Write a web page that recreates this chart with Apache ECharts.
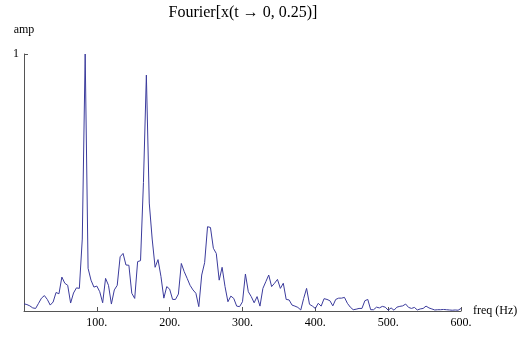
<!DOCTYPE html>
<html>
<head>
<meta charset="utf-8">
<script src="https://cdn.jsdelivr.net/npm/echarts@6/dist/echarts.min.js"></script>
<style>
html,body{margin:0;padding:0;background:#fff;}
#chart{width:528px;height:338px;}
</style>
</head>
<body>
<div id="chart"></div>
<script>
// spectrum, 4 Hz bins from 0 to 600 Hz
var freqStep = 4;
var amps = [
	0.028, 0.025, 0.02, 0.012, 0.01, 0.03, 0.05, 0.06, 0.045, 0.023,
	0.035, 0.072, 0.067, 0.132, 0.108, 0.1, 0.031, 0.07, 0.09, 0.088,
	0.28, 1.0, 0.166, 0.12, 0.093, 0.097, 0.075, 0.032, 0.127, 0.1,
	0.027, 0.082, 0.1, 0.211, 0.224, 0.179, 0.178, 0.069, 0.049, 0.192,
	0.196, 0.5, 0.918, 0.42, 0.28, 0.17, 0.2, 0.135, 0.05, 0.095,
	0.085, 0.045, 0.045, 0.066, 0.185, 0.153, 0.127, 0.1, 0.082, 0.069,
	0.017, 0.14, 0.188, 0.328, 0.325, 0.244, 0.224, 0.12, 0.17, 0.095,
	0.036, 0.058, 0.049, 0.019, 0.017, 0.036, 0.144, 0.075, 0.056, 0.032,
	0.056, 0.019, 0.088, 0.114, 0.14, 0.095, 0.108, 0.123, 0.088, 0.108,
	0.045, 0.043, 0.023, 0.019, 0.014, 0.004, 0.049, 0.088, 0.026, 0.019,
	0.01, 0.03, 0.019, 0.048, 0.045, 0.04, 0.02, 0.045, 0.05, 0.05,
	0.053, 0.03, 0.015, 0.005, 0.007, 0.01, 0.01, 0.04, 0.045, 0.005,
	0.005, 0.015, 0.012, 0.018, 0.015, 0.003, 0.012, 0.003, 0.015, 0.018,
	0.02, 0.027, 0.014, 0.01, 0.014, 0.004, 0.008, 0.01, 0.019, 0.012,
	0.008, 0.004, 0.005, 0.005, 0.006, 0.005, 0.004, 0.003, 0.004, 0.003,
	0.01
];
var xTicks = [100, 200, 300, 400, 500, 600];
var yTicks = [1];

var seriesData = [];
for (var i = 0; i < amps.length; i++) {
	seriesData.push([i * freqStep, amps[i]]);
}

var serif = 'Liberation Serif';
var axisCol = '#555';

var myChart = echarts.init(document.getElementById('chart'));
var option = {
	animation: false,
	title: {
		text: 'Fourier[x(t \u2192 0, 0.25)]',
		left: 238,
		top: 0,
		textAlign: 'center',
		textStyle: {
			fontFamily: serif,
			fontWeight: 'normal',
			fontSize: 16,
			color: '#000'
		}
	},
	grid: {
		left: 24,
		right: 67,
		top: 54,
		bottom: 27
	},
	xAxis: {
		type: 'value',
		min: 0,
		max: 600,
		interval: 100,
		name: 'freq (Hz)',
		nameLocation: 'end',
		nameGap: 12,
		nameTextStyle: { fontFamily: serif, fontSize: 12, color: '#000' },
		axisLine: { lineStyle: { color: axisCol, width: 1 } },
		axisTick: { inside: true, length: 4, lineStyle: { color: axisCol } },
		splitLine: { show: false },
		axisLabel: {
			fontFamily: serif,
			fontSize: 12,
			color: '#000',
			margin: 6,
			formatter: function(v) {
				return xTicks.indexOf(v) >= 0 ? v + '.' : '';
			}
		}
	},
	yAxis: {
		type: 'value',
		min: 0,
		max: 1,
		interval: 1,
		name: 'amp',
		nameLocation: 'end',
		nameGap: 18,
		nameTextStyle: { fontFamily: serif, fontSize: 12, color: '#000', align: 'center' },
		axisLine: { show: true, lineStyle: { color: axisCol, width: 1 } },
		axisTick: { show: true, inside: true, length: 4, lineStyle: { color: axisCol } },
		splitLine: { show: false },
		axisLabel: {
			fontFamily: serif,
			fontSize: 12,
			color: '#000',
			margin: 5,
			formatter: function(v) {
				return yTicks.indexOf(v) >= 0 ? String(v) : '';
			}
		}
	},
	series: [
		{
			type: 'line',
			symbol: 'none',
			clip: false,
			data: seriesData,
			lineStyle: { color: '#3b3b9c', width: 1 }
		}
	]
};
myChart.setOption(option);
</script>
</body>
</html>
